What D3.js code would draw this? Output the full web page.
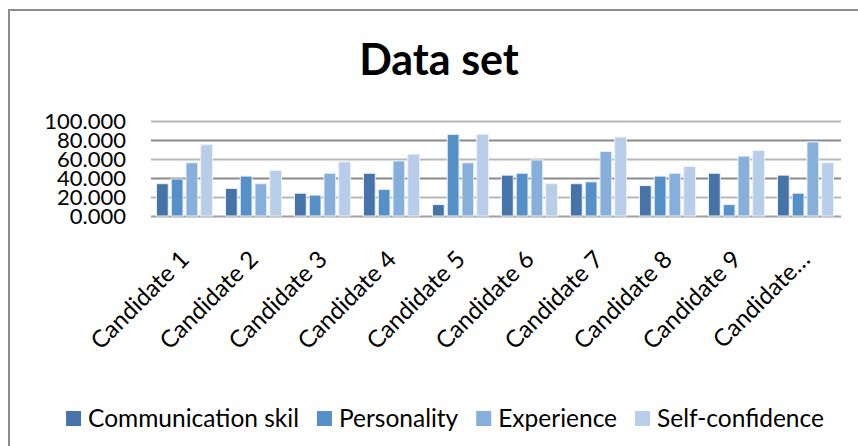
<!DOCTYPE html>
<html>
<head>
<meta charset="utf-8">
<title>Data set</title>
<script src="https://cdn.jsdelivr.net/npm/d3@7"></script>
<style>
body { margin: 0; background: #fff; }
svg { display: block; font-family: Lato, "Noto Sans", sans-serif; }
</style>
</head>
<body>
<script>
// chart data
let candidates = ['Candidate 1', 'Candidate 2', 'Candidate 3', 'Candidate 4', 'Candidate 5',
                  'Candidate 6', 'Candidate 7', 'Candidate 8', 'Candidate 9', 'Candidate 10'];
let tickLabels = ['Candidate 1', 'Candidate 2', 'Candidate 3', 'Candidate 4', 'Candidate 5',
                  'Candidate 6', 'Candidate 7', 'Candidate 8', 'Candidate 9', 'Candidate…'];
let seriesNames = ['Communication skil', 'Personality', 'Experience', 'Self-confidence'];
let communication = [34, 29, 24, 45, 12, 43, 34, 32, 45, 43];
let personality   = [39, 42, 22, 28, 86, 45, 36, 42, 12, 24];
let experience    = [56, 34, 45, 58, 56, 59, 68, 45, 63, 78];
let confidence    = [75, 48, 57, 65, 86, 34, 83, 52, 69, 56];
let yTicks = [0, 20, 40, 60, 80, 100];

let series = [communication, personality, experience, confidence];
let colors = ['#4674a8', '#5590c9', '#86afdc', '#b8cde9'];

let width = 858, height = 446;
let margin = {top: 121, right: 17, bottom: 230, left: 151};
let plotBottom = 216;

let svg = d3.select('body').append('svg').attr('width', width).attr('height', height);

// outer chart border (cropped at right and bottom)
svg.append('rect').attr('x', 9).attr('y', 10).attr('width', 870).attr('height', 460)
    .attr('fill', 'none').attr('stroke', '#8c8c8c').attr('stroke-width', 2);

let x0 = d3.scaleBand().domain(candidates).range([margin.left, width - margin.right]);
let x1 = d3.scaleBand().domain(d3.range(series.length)).range([5, x0.bandwidth() - 5]);
let y = d3.scaleLinear().domain([0, 100]).range([plotBottom, margin.top]);

// gridlines
let grid = svg.append('g').attr('class', 'grid')
    .attr('transform', 'translate(' + margin.left + ',0)')
    .call(d3.axisLeft(y).tickValues(yTicks).tickSize(-(width - margin.right - margin.left)).tickFormat(''));
grid.select('.domain').remove();
grid.selectAll('.tick line')
    .attr('stroke', d => d == 0 ? '#a0a0a0' : (d % 40 == 0 ? '#8a8a8a' : '#b8b8b8'))
    .attr('stroke-width', 2);

// y labels
let yAxis = svg.append('g').attr('transform', 'translate(126,0)')
    .call(d3.axisLeft(y).tickValues(yTicks).tickSize(0).tickPadding(0).tickFormat(d3.format('.3f')));
yAxis.select('.domain').remove();
yAxis.selectAll('text').attr('font-size', 22).attr('fill', '#000')
    .attr('font-family', 'Lato, "Noto Sans", sans-serif').attr('dy', '0.36em');

// bars
let groups = svg.append('g').selectAll('g').data(candidates).enter().append('g')
    .attr('transform', d => 'translate(' + x0(d) + ',0)');
groups.selectAll('rect').data((d, i) => series.map((s, k) => ({k: k, v: s[i]}))).enter().append('rect')
    .attr('x', d => x1(d.k) + 0.5)
    .attr('width', x1.bandwidth() - 3)
    .attr('y', d => y(d.v))
    .attr('height', d => y(0) - y(d.v))
    .attr('fill', d => colors[d.k])
    .attr('stroke', '#eaf0f8').attr('stroke-width', 1);

// rotated category labels
svg.append('g').selectAll('text').data(candidates).enter().append('text')
    .attr('transform', d => 'translate(' + (x0(d) + x0.bandwidth() / 2 + 5) + ',' + (plotBottom + 45) + ') rotate(-45)')
    .attr('text-anchor', 'end')
    .attr('font-size', 24)
    .text((d, i) => tickLabels[i]);

// title
svg.append('text').attr('x', 439).attr('y', 75).attr('text-anchor', 'middle')
    .attr('font-size', 43).attr('font-weight', 'bold').text('Data set');

// legend, laid out from text widths and centred
let legend = svg.append('g');
let items = legend.selectAll('g').data(seriesNames).enter().append('g');
items.append('rect').attr('width', 15).attr('height', 15).attr('y', 411).attr('fill', (d, i) => colors[i]);
items.append('text').attr('x', 22).attr('y', 427).attr('font-size', 24.5).text(d => d);
let pos = 0;
items.each(function() {
    let w = d3.select(this).select('text').node().getComputedTextLength() + 22;
    d3.select(this).attr('transform', 'translate(' + pos + ',0)');
    pos += w + 18;
});
legend.attr('transform', 'translate(' + (445 - (pos - 18) / 2) + ',0)');
</script>
</body>
</html>
